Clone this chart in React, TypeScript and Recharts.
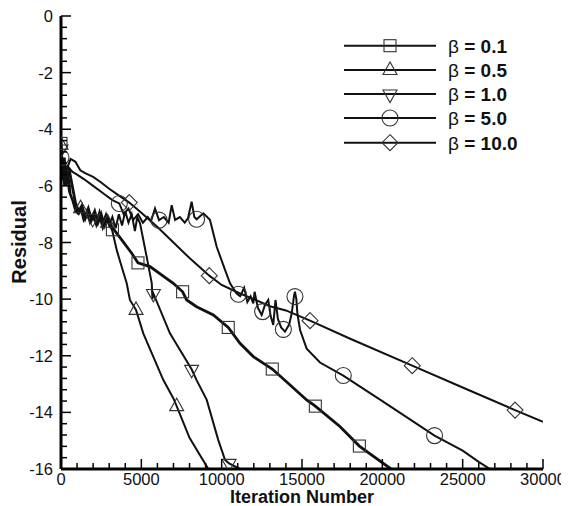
import { ComposedChart, Line, XAxis, YAxis, Label } from 'recharts';

// residual histories, [iteration, log residual]
const beta01: [number, number][] = [
  [0, -4.5], [100, -5.5], [200, -5.0], [350, -5.8], [500, -5.4], [700, -6.0], [900, -6.6], [1100, -6.9],
  [1300, -6.7], [1500, -7.1], [1700, -6.8], [1900, -7.2], [2100, -6.9], [2300, -7.3], [2500, -7.0],
  [2700, -7.4], [2900, -7.1], [3150, -7.44], [3780, -7.91], [4400, -8.38], [4790, -8.72], [5540, -8.85],
  [6990, -9.44], [7570, -9.74], [7820, -10.03], [8440, -10.27], [9480, -10.56], [10410, -11.0],
  [11140, -11.56], [11970, -12.03], [13150, -12.47], [14000, -12.9], [15290, -13.56], [15830, -13.78],
  [17360, -14.5], [18570, -15.19], [20540, -16],
];
const beta05: [number, number][] = [
  [0, -4.5], [100, -5.8], [200, -5.2], [300, -6.0], [450, -5.6], [600, -6.3], [800, -6.6], [1000, -6.9],
  [1220, -6.79], [1400, -7.2], [1600, -6.9], [1800, -7.3], [2000, -7.0], [2200, -7.4], [2400, -7.1],
  [2600, -7.5], [2800, -7.2], [3000, -7.35], [3200, -7.6], [3470, -8.27], [3800, -8.9], [4090, -9.44],
  [4290, -10.03], [4670, -10.38], [5120, -11.21], [6370, -12.86], [6990, -13.5], [7200, -13.78],
  [8000, -14.9], [9170, -16],
];
const beta10: [number, number][] = [
  [0, -4.6], [100, -5.2], [200, -6.0], [350, -5.5], [500, -6.2], [700, -6.5], [900, -6.9], [1100, -7.0],
  [1300, -6.8], [1500, -7.2], [1700, -6.9], [1970, -7.15], [2200, -7.3], [2400, -6.9], [2600, -7.3],
  [2800, -7.0], [3000, -7.4], [3200, -7.1], [3400, -7.5], [3600, -7.0], [3800, -7.4], [4000, -6.9],
  [4200, -7.3], [4400, -7.0], [4600, -7.6], [4750, -7.1], [4920, -7.32], [5330, -8.5], [5650, -9.44],
  [5690, -10.0], [5750, -9.8], [6780, -11.21], [8130, -12.48], [8440, -12.86], [9070, -13.56],
  [9790, -14.98], [10210, -15.68], [10460, -15.8], [11140, -16],
];
const beta50: [number, number][] = [
  [0, -5.0], [200, -5.6], [400, -5.3], [700, -5.5], [1000, -5.6], [1400, -5.75], [2000, -6.0],
  [2600, -6.25], [3200, -6.5], [3630, -6.62], [3900, -7.0], [4200, -6.8], [4500, -7.2], [4800, -7.0],
  [5100, -7.3], [5400, -7.1], [5600, -7.25], [5850, -6.8], [6100, -7.21], [6400, -7.1], [6700, -7.3],
  [6890, -6.68], [7100, -7.2], [7400, -7.1], [7700, -7.3], [7900, -7.15], [8130, -6.56], [8300, -7.1],
  [8440, -7.18], [8860, -6.97], [9270, -7.2], [9690, -8.15], [10210, -8.97], [10520, -9.44],
  [10930, -9.8], [11150, -9.9], [11400, -9.6], [11600, -10.1], [11800, -9.9], [11970, -10.15],
  [12050, -9.74], [12250, -10.3], [12490, -10.56], [12700, -10.2], [12900, -10.03], [13050, -10.6],
  [13210, -10.91], [13350, -10.03], [13500, -10.7], [13700, -11.0], [13940, -11.15], [14200, -10.9],
  [14360, -10.5], [14500, -9.9], [14560, -9.74], [14650, -10.0], [14710, -10.5], [14880, -11.09],
  [15290, -11.75], [16120, -12.24], [17570, -12.7], [20000, -13.6], [23250, -14.82], [25000, -15.35],
  [26000, -15.75], [26700, -16],
];
const beta100: [number, number][] = [
  [0, -5.0], [300, -5.5], [600, -5.05], [900, -5.15], [1200, -5.45], [1500, -5.55], [2000, -5.68],
  [2500, -5.88], [3000, -6.1], [3500, -6.3], [4250, -6.59], [5000, -6.95], [6000, -7.45], [7000, -8.0],
  [8000, -8.55], [9230, -9.17], [10000, -9.5], [11140, -9.8], [12000, -10.0], [13000, -10.25],
  [14000, -10.4], [15500, -10.76], [18000, -11.4], [21860, -12.35], [25000, -13.12], [28260, -13.92],
  [30000, -14.33],
];

// symbol positions
const beta01Marks: [number, number][] = [[0, -4.5], [3200, -7.55], [4790, -8.72], [7570, -9.74], [10410, -11.0], [13150, -12.47], [15830, -13.78], [18570, -15.19]];
const beta05Marks: [number, number][] = [[0, -4.55], [1220, -6.79], [2900, -7.3], [4670, -10.38], [7200, -13.78]];
const beta10Marks: [number, number][] = [[0, -4.7], [1970, -7.15], [5750, -9.8], [8130, -12.48], [10460, -15.8]];
const beta50Marks: [number, number][] = [[0, -5.0], [3630, -6.62], [6100, -7.21], [8440, -7.18], [11040, -9.83], [12550, -10.44], [13840, -11.07], [14560, -9.91], [17570, -12.7], [23250, -14.82]];
const beta100Marks: [number, number][] = [[4250, -6.59], [9230, -9.17], [15500, -10.76], [21860, -12.35], [28260, -13.92]];

const betaLabels = ['0.1', '0.5', '1.0', '5.0', '10.0'];
const xMajorTicks = [0, 5000, 10000, 15000, 20000, 25000, 30000];
const yMajorTicks = [0, -2, -4, -6, -8, -10, -12, -14, -16];

const FONT = 'Arial, "Liberation Sans", Helvetica, sans-serif';
const toRows = (pts: [number, number][]) => pts.map(([x, y]) => ({ x, y }));

const subdivide = (majors: number[], n: number) => {
  const out: number[] = [];
  for (let i = 0; i < majors.length - 1; i++) {
    const step = (majors[i + 1] - majors[i]) / n;
    for (let k = 0; k < n; k++) out.push(+(majors[i] + k * step).toFixed(4));
  }
  out.push(majors[majors.length - 1]);
  return out;
};
const xTicks = subdivide(xMajorTicks, 5);
const yTicks = subdivide(yMajorTicks, 5);

type Kind = 'square' | 'up' | 'down' | 'circle' | 'diamond';

function Symbol({ cx, cy, kind }: { cx: number; cy: number; kind: Kind }) {
  const s = { fill: 'none', stroke: '#333', strokeWidth: 1.1 };
  if (kind === 'square') return <rect x={cx - 6} y={cy - 6} width={12} height={12} {...s} />;
  if (kind === 'up') return <polygon points={`${cx},${cy - 8} ${cx - 7},${cy + 4.5} ${cx + 7},${cy + 4.5}`} {...s} />;
  if (kind === 'down') return <polygon points={`${cx},${cy + 8.5} ${cx - 7},${cy - 4} ${cx + 7},${cy - 4}`} {...s} />;
  if (kind === 'circle') return <circle cx={cx} cy={cy} r={8} {...s} />;
  return <polygon points={`${cx},${cy - 8} ${cx + 8},${cy} ${cx},${cy + 8} ${cx - 8},${cy}`} {...s} />;
}

const series = [
  { name: betaLabels[0], line: beta01, marks: beta01Marks, kind: 'square' as Kind, width: 2.8 },
  { name: betaLabels[1], line: beta05, marks: beta05Marks, kind: 'up' as Kind, width: 2 },
  { name: betaLabels[2], line: beta10, marks: beta10Marks, kind: 'down' as Kind, width: 2 },
  { name: betaLabels[3], line: beta50, marks: beta50Marks, kind: 'circle' as Kind, width: 2 },
  { name: betaLabels[4], line: beta100, marks: beta100Marks, kind: 'diamond' as Kind, width: 2 },
];

const XTick = ({ x, y, payload }: any) => {
  const major = payload.value % 5000 === 0;
  return (
    <g>
      <line x1={x} y1={y} x2={x} y2={y - (major ? 10 : 6)} stroke="#000" strokeWidth={1.5} />
      {major && (
        <text x={x} y={y + 9.5} textAnchor="middle" dominantBaseline="central" fontSize={16.5} fontFamily={FONT} fill="#111">
          {payload.value}
        </text>
      )}
    </g>
  );
};

const YTick = ({ x, y, payload }: any) => {
  const major = Math.abs(payload.value % 2) < 1e-6;
  return (
    <g>
      <line x1={x} y1={y} x2={x + (major ? 10 : 6)} y2={y} stroke="#000" strokeWidth={1.5} />
      {major && (
        <text x={x - 8} y={y} textAnchor="end" dominantBaseline="central" fontSize={16.5} fontFamily={FONT} fill="#111">
          {payload.value}
        </text>
      )}
    </g>
  );
};

function LegendBox() {
  const rows = [37.7, 62, 86, 110, 134.7];
  return (
    <svg width={561} height={160} style={{ position: 'absolute', left: 0, top: 0, pointerEvents: 'none' }}>
      {series.map((s, i) => (
        <g key={s.name}>
          <line x1={336} x2={428} y1={rows[i]} y2={rows[i]} stroke="#111" strokeWidth={2} />
          <Symbol cx={382} cy={rows[i]} kind={s.kind} />
          <text x={440} y={rows[i]} dominantBaseline="central" fontSize={19} fontFamily={FONT} fill="#111">
            <tspan>β</tspan>
            <tspan fontWeight="bold"> = {s.name}</tspan>
          </text>
        </g>
      ))}
    </svg>
  );
}

export default function App() {
  return (
    <div style={{ position: 'relative', width: 561, height: 498, background: '#fff' }}>
      <ComposedChart width={561} height={498} margin={{ top: 8, right: 26, bottom: 0, left: 0 }}>
        <XAxis
          type="number"
          dataKey="x"
          domain={[0, 30000]}
          ticks={xTicks}
          interval={0}
          allowDataOverflow
          height={37}
          tickSize={0}
          tickMargin={0}
          tick={<XTick />}
          axisLine={{ stroke: '#000', strokeWidth: 3 }}
        >
          <Label
            content={() => (
              <text x={294} y={488.5} textAnchor="middle" dominantBaseline="central" fontSize={18} fontWeight="bold" fontFamily={FONT} fill="#111">
                Iteration Number
              </text>
            )}
          />
        </XAxis>
        <YAxis
          type="number"
          dataKey="y"
          domain={[-16, 0]}
          ticks={yTicks}
          interval={0}
          allowDataOverflow
          width={53}
          tickSize={0}
          tickMargin={0}
          tick={<YTick />}
          axisLine={{ stroke: '#000', strokeWidth: 3 }}
        >
          <Label
            content={() => (
              <text x={11} y={234} transform="rotate(-90 11 234)" textAnchor="middle" dominantBaseline="central" fontSize={20} fontWeight="bold" fontFamily={FONT} fill="#111">
                Residual
              </text>
            )}
          />
        </YAxis>
        {series.map((s) => (
          <Line
            key={'l' + s.name}
            data={toRows(s.line)}
            dataKey="y"
            type="linear"
            stroke="#111"
            strokeWidth={s.width}
            dot={false}
            activeDot={false}
            isAnimationActive={false}
          />
        ))}
        {series.map((s) => (
          <Line
            key={'m' + s.name}
            data={toRows(s.marks)}
            dataKey="y"
            stroke="none"
            dot={(p: any) => <Symbol key={`${s.kind}-${p.index}`} cx={p.cx} cy={p.cy} kind={s.kind} />}
            activeDot={false}
            isAnimationActive={false}
          />
        ))}
      </ComposedChart>
      <LegendBox />
    </div>
  );
}
